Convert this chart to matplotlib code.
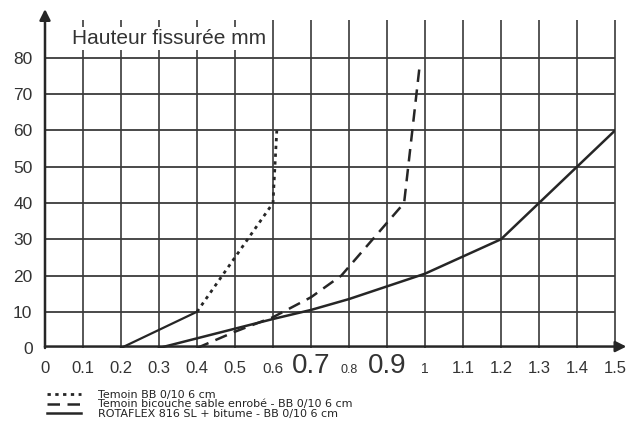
import matplotlib
matplotlib.use("Agg")
import matplotlib.pyplot as plt

plt.rcParams["font.family"] = ["Liberation Sans", "DejaVu Sans"]

INK = "#262626"
GRID = "#3a3a3a"

# Temoin BB 0/10 6 cm
x_bb = [0.2, 0.4, 0.6, 0.61]
y_bb = [0, 10, 40, 60]

# Temoin bicouche sable enrobé
x_bic = [0.4, 0.5, 0.6, 0.7, 0.78, 0.945, 0.985]
y_bic = [0, 4.5, 8.5, 14, 20, 40, 77]

# ROTAFLEX 816 SL + bitume
x_rot = [0.3, 0.6, 0.7, 0.8, 0.9, 1.0, 1.2, 1.3, 1.5]
y_rot = [0, 8, 10.5, 13.5, 17, 20.5, 30, 40, 60]

x_ticks = [0, 0.1, 0.2, 0.3, 0.4, 0.5, 0.6, 0.7, 0.8, 0.9, 1.0, 1.1, 1.2, 1.3, 1.4, 1.5]
x_tick_labels = ["0", "0.1", "0.2", "0.3", "0.4", "0.5", "0.6", "0.7", "0.8",
                 "0.9", "1", "1.1", "1.2", "1.3", "1.4", "1.5"]
x_tick_sizes = [12, 12, 12, 12, 12, 12, 11, 20, 9, 20, 10, 12, 12, 12, 12, 12]
y_ticks = [0, 10, 20, 30, 40, 50, 60, 70, 80]

labels = ["Temoin BB 0/10 6 cm",
          "Temoin bicouche sable enrobé - BB 0/10 6 cm",
          "ROTAFLEX 816 SL + bitume - BB 0/10 6 cm"]

fig = plt.figure(figsize=(6.3, 4.23), dpi=100)
ax = fig.add_axes([45 / 630, 75 / 423, 570 / 630, 290 / 423])
ax.set_xlim(0, 1.5)
ax.set_ylim(0, 80)
for s in ax.spines.values():
    s.set_visible(False)

# hand-drawn style grid, verticals run above the 80 line
ax.vlines(x_ticks[1:], 0, 90.5, color=GRID, lw=1.2, clip_on=False, zorder=1)
ax.hlines(y_ticks[1:], 0, 1.5, color=GRID, lw=1.3, clip_on=False, zorder=1)

# axes with arrows
ax.annotate("", xy=(0, 93.5), xytext=(0, 0), annotation_clip=False,
            arrowprops=dict(arrowstyle="-|>", lw=1.8, color=INK,
                            mutation_scale=16, shrinkA=0, shrinkB=0))
ax.annotate("", xy=(1.53, 0.4), xytext=(0, 0.4), annotation_clip=False,
            arrowprops=dict(arrowstyle="-|>", lw=1.8, color=INK,
                            mutation_scale=16, shrinkA=0, shrinkB=0))

# series
ax.plot(x_bb[:2], y_bb[:2], color=INK, lw=1.6, zorder=3)
l1, = ax.plot(x_bb[1:], y_bb[1:], color=INK, lw=2, ls=(0, (1.2, 1.6)), zorder=3)
l2, = ax.plot(x_bic, y_bic, color=INK, lw=1.8, ls=(0, (5, 3)), zorder=3)
l3, = ax.plot(x_rot, y_rot, color=INK, lw=1.8, zorder=3)

ax.set_yticks(y_ticks)
ax.set_yticklabels([str(v) for v in y_ticks], fontsize=12.5, color="#333333")
ax.set_xticks(x_ticks)
ax.set_xticklabels(x_tick_labels, color="#333333")
ax.tick_params(length=0)
ax.tick_params(axis="y", pad=9)
ax.tick_params(axis="x", pad=18)
for lbl, fs in zip(ax.get_xticklabels(), x_tick_sizes):
    lbl.set_fontsize(fs)
    lbl.set_verticalalignment("baseline")

ax.text(0.071, 85.3, "Hauteur fissurée mm", fontsize=15, color="#333333",
        va="center", ha="left", zorder=2,
        bbox=dict(facecolor="white", edgecolor="none", pad=1.5))
ax.text(1.118, -0.145, "Temps reduit r", fontsize=14.5, color="#333333",
        va="center", ha="left", transform=ax.get_yaxis_transform())

fig.legend([l1, l2, l3], labels, loc="upper left",
           bbox_to_anchor=(0.075, 0.078), frameon=False,
           prop=dict(family="DejaVu Sans", size=8),
           handlelength=3.0, handletextpad=1.6, labelspacing=-0.05,
           borderpad=0, borderaxespad=0, labelcolor="#222222")

fig.savefig("out.png", dpi=100, facecolor="white")
